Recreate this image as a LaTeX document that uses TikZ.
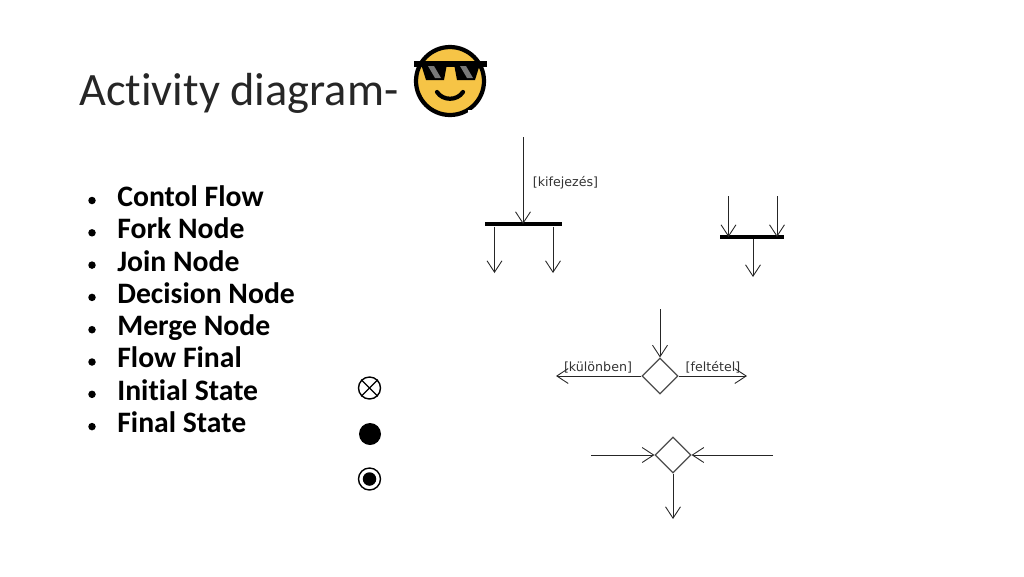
\documentclass[tikz,border=0pt]{standalone}
\usepackage{fontspec}
\setmainfont{Carlito}[RawFeature={-liga;-clig;-dlig}]
\newfontfamily\labelfont{DejaVu Sans}
\usetikzlibrary{arrows.meta}
\usetikzlibrary{shapes.geometric}
\definecolor{faceyellow}{RGB}{246,196,70}
\definecolor{lensgray}{RGB}{120,120,120}
\tikzset{
    flow/.style={draw=black!85, line width=0.5pt, -{Straight Barb[length=6.5pt, width=8.5pt]}},
    bar/.style={rectangle, fill=black, inner sep=0pt, minimum height=0.09cm},
    gate/.style={diamond, draw=black!70, line width=0.65pt, inner sep=0pt, minimum size=0.72cm},
    guard/.style={font=\labelfont\fontsize{7.2pt}{8pt}\selectfont, text=black!80, inner sep=0pt},
    item/.style={font=\bfseries\fontsize{16.9pt}{18pt}\selectfont, anchor=base west, inner sep=0pt},
    dot/.style={circle, fill=black, inner sep=0pt, minimum size=0.15cm},
    state/.style={circle, inner sep=0pt, minimum size=0.44cm}
}
\begin{document}
\begin{tikzpicture}[x=0.02cm, y=-0.02cm]
    \useasboundingbox (0,0) rectangle (1024,576);

    \node[font=\fontsize{26.4pt}{30pt}\selectfont, anchor=base west, inner sep=0pt, text=black!85] (title) at (79,105) {Activity diagram-};

    % face
    \node[circle, draw=black, fill=faceyellow, line width=2.4pt, inner sep=0pt, minimum size=1.36cm] (face) at (450,81) {};
    \draw[black, line width=3.6pt] (414,64) -- (487,64);
    \fill[black] (421,64) -- (447,64) -- (444,80) -- (426,80) -- cycle;
    \fill[black] (454,64) -- (480,64) -- (475,80) -- (457,80) -- cycle;
    \fill[lensgray] (428,66) -- (434,66) -- (441,78) -- (435,78) -- cycle;
    \fill[lensgray] (460,66) -- (466,66) -- (473,78) -- (467,78) -- cycle;
    \draw[black, line width=2.4pt, line cap=round] (437,92) .. controls (443,101) and (457,101) .. (463,92);
    \fill[white] (468,110) rectangle (486,120);

    % list
    \foreach \name [count=\i from 0] in {Contol Flow, Fork Node, Join Node, Decision Node, Merge Node, Flow Final, Initial State, Final State} {
        \node[dot] (dot\i) at (92,{200.5+32.3*\i}) {};
        \node[item] (item\i) at (117,{206.4+32.3*\i}) {\name};
    }

    % states
    \node[state, draw, line width=0.8pt] (flowfinal) at (369.5,388) {};
    \draw[line width=0.7pt] (flowfinal.north west) -- (flowfinal.south east);
    \draw[line width=0.7pt] (flowfinal.north east) -- (flowfinal.south west);
    \node[state, fill=black] (initial) at (370,434) {};
    \node[state, draw, line width=0.8pt] (final) at (369.5,479) {};
    \node[circle, fill=black, inner sep=0pt, minimum size=0.27cm] (finalin) at (final) {};

    % fork
    \node[bar, minimum width=1.54cm] (forkbar) at (523.5,224) {};
    \coordinate (forkin) at (523,137);
    \coordinate (forkout1) at (494.5,273);
    \coordinate (forkout2) at (553,273);
    \draw[flow] (forkin) -- (forkin |- forkbar.center);
    \draw[flow] (forkout1 |- forkbar.south) -- (forkout1);
    \draw[flow] (forkout2 |- forkbar.south) -- (forkout2);
    \node[guard] (forklabel) at (565.5,183) {[kifejezés]};

    % join
    \node[bar, minimum width=1.29cm, minimum height=0.07cm] (joinbar) at (752,237) {};
    \coordinate (joinin1) at (728.5,196);
    \coordinate (joinin2) at (777,196);
    \coordinate (joinout) at (753,277);
    \draw[flow] (joinin1) -- (joinin1 |- joinbar.center);
    \draw[flow] (joinin2) -- (joinin2 |- joinbar.center);
    \draw[flow] (joinout |- joinbar.south) -- (joinout);

    % decision
    \node[gate] (decision) at (660,376) {};
    \coordinate (decisionin) at (660,309);
    \coordinate (decisionleft) at (556,376);
    \coordinate (decisionright) at (747,376);
    \draw[flow] (decisionin) -- (decision.north);
    \draw[flow] (decision.west) -- (decisionleft);
    \draw[flow] (decision.east) -- (decisionright);
    \node[guard] (leftlabel) at (598,367.5) {[különben]};
    \node[guard] (rightlabel) at (713,367.5) {[feltétel]};

    % merge
    \node[gate] (merge) at (673,455) {};
    \coordinate (mergeleft) at (591,455);
    \coordinate (mergeright) at (773,455);
    \coordinate (mergeout) at (673,519);
    \draw[flow] (mergeleft) -- (merge.west);
    \draw[flow] (mergeright) -- (merge.east);
    \draw[flow] (merge.south) -- (mergeout);
\end{tikzpicture}
\end{document}
